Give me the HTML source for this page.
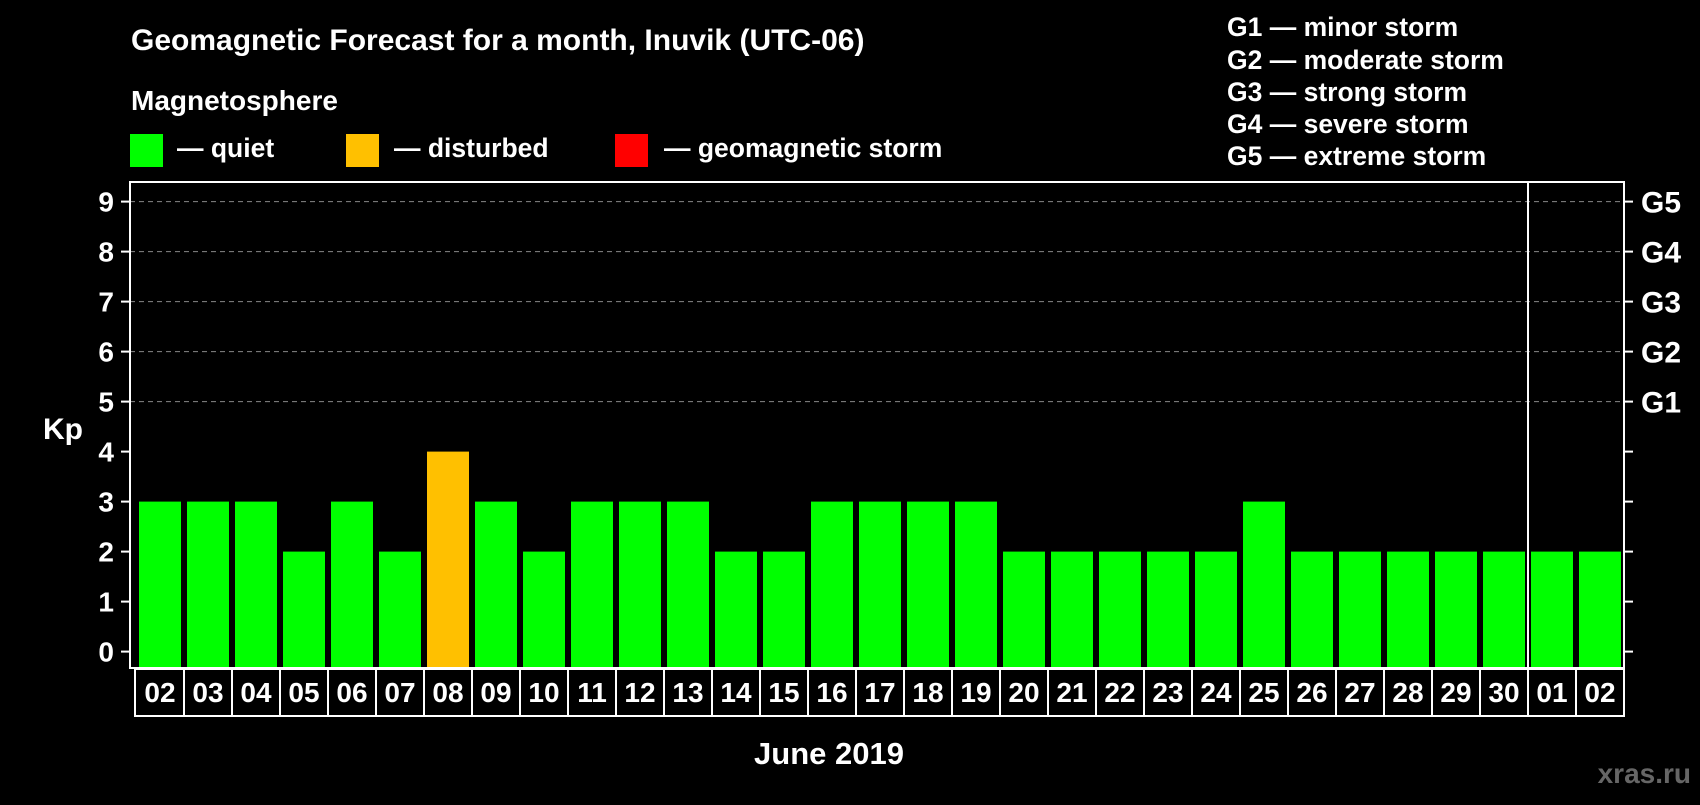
<!DOCTYPE html>
<html><head><meta charset="utf-8"><style>
body{margin:0;background:#000;width:1700px;height:800px;overflow:hidden;font-family:"Liberation Sans",sans-serif;font-weight:bold;color:#fff}
svg text{font-family:"Liberation Sans",sans-serif;font-weight:bold}
</style></head><body>
<svg width="1700" height="800" id="chart">
<text x="131" y="50" font-size="30" fill="#fff">Geomagnetic Forecast for a month, Inuvik (UTC-06)</text>
<text x="131" y="110" font-size="28" fill="#fff">Magnetosphere</text>
<rect x="130" y="134" width="33" height="33" fill="#00ff00"/>
<text x="177" y="157" font-size="26.5" fill="#fff">— quiet</text>
<rect x="346" y="134" width="33" height="33" fill="#ffc000"/>
<text x="394" y="157" font-size="26.5" fill="#fff">— disturbed</text>
<rect x="615" y="134" width="33" height="33" fill="#ff0000"/>
<text x="664" y="157" font-size="26.5" fill="#fff">— geomagnetic storm</text>
<g font-size="26.5" fill="#fff">
<text x="1227" y="36">G1 — minor storm</text>
<text x="1227" y="69">G2 — moderate storm</text>
<text x="1227" y="101">G3 — strong storm</text>
<text x="1227" y="133">G4 — severe storm</text>
<text x="1227" y="165">G5 — extreme storm</text>
</g>
<text x="43" y="439" font-size="30" fill="#fff">Kp</text>
<text x="829" y="764" font-size="31" fill="#fff" text-anchor="middle">June 2019</text>
<text x="1691" y="783" font-size="28" fill="#666" text-anchor="end">xras.ru</text>
<g id="grid"></g><g id="bars"></g><g id="axes"></g>
</svg>
<script>
const days=["02","03","04","05","06","07","08","09","10","11","12","13","14","15","16","17","18","19","20","21","22","23","24","25","26","27","28","29","30","01","02"];
const kp=[3,3,3,2,3,2,4,3,2,3,3,3,2,2,3,3,3,3,2,2,2,2,2,3,2,2,2,2,2,2,2];
const yTicks=[0,1,2,3,4,5,6,7,8,9];
const gLabels=["G1","G2","G3","G4","G5"];
const NS="http://www.w3.org/2000/svg";
const L=130,R=1624,T=182,B=668,x0=139,pitch=48,bw=42;
const y=v=>651.6-v*50;
const xs=i=>x0+i*pitch;
function mk(tag,attrs,parent,txt){const e=document.createElementNS(NS,tag);for(const k in attrs)e.setAttribute(k,attrs[k]);if(txt!==undefined)e.textContent=txt;document.getElementById(parent).appendChild(e);return e;}
yTicks.forEach(v=>{
 if(v>=5){const g=mk('line',{x1:L,x2:R,y1:y(v),y2:y(v),stroke:'#888','stroke-dasharray':'5,4','stroke-width':1},'grid');
 
 }
 const t=mk('line',{x1:121,x2:L,y1:y(v),y2:y(v),stroke:'#fff','stroke-width':2},'axes');
 
 
 const t2=mk('line',{x1:R,x2:1633,y1:y(v),y2:y(v),stroke:'#fff','stroke-width':2},'axes');
 
 
 const lb=mk('text',{x:114,y:y(v)+10,'font-size':28,fill:'#fff','text-anchor':'end'},'axes',String(v));
 
 
});
gLabels.forEach((g,i)=>{
 const lb=mk('text',{x:1641,y:y(5+i)+11,'font-size':30,fill:'#fff'},'axes',g);
 
 
});
kp.forEach((v,i)=>{
 const c=v>=5?'#ff0000':(v>=4?'#ffc000':'#00ff00');
 const b=mk('rect',{x:xs(i),y:y(v),width:bw,height:B-y(v),fill:c},'bars');
 
 
});
const fr=mk('rect',{x:L,y:T,width:R-L,height:B-T,fill:'none',stroke:'#fff','stroke-width':2},'axes');


const dv=mk('line',{x1:xs(29)-3,x2:xs(29)-3,y1:T,y2:716,stroke:'#fff','stroke-width':2},'axes');


const bx=mk('rect',{x:135,y:669,width:xs(days.length)-3-135,height:47,fill:'none',stroke:'#fff','stroke-width':2},'axes');


days.forEach((d,i)=>{
 if(i>0){const l=mk('line',{x1:xs(i)-3,x2:xs(i)-3,y1:669,y2:716,stroke:'#fff','stroke-width':2},'axes');
 
 }
 const t=mk('text',{x:xs(i)+bw/2,y:702,'font-size':28,fill:'#fff','text-anchor':'middle'},'axes',d);
 
 
});
</script>
</body></html>
